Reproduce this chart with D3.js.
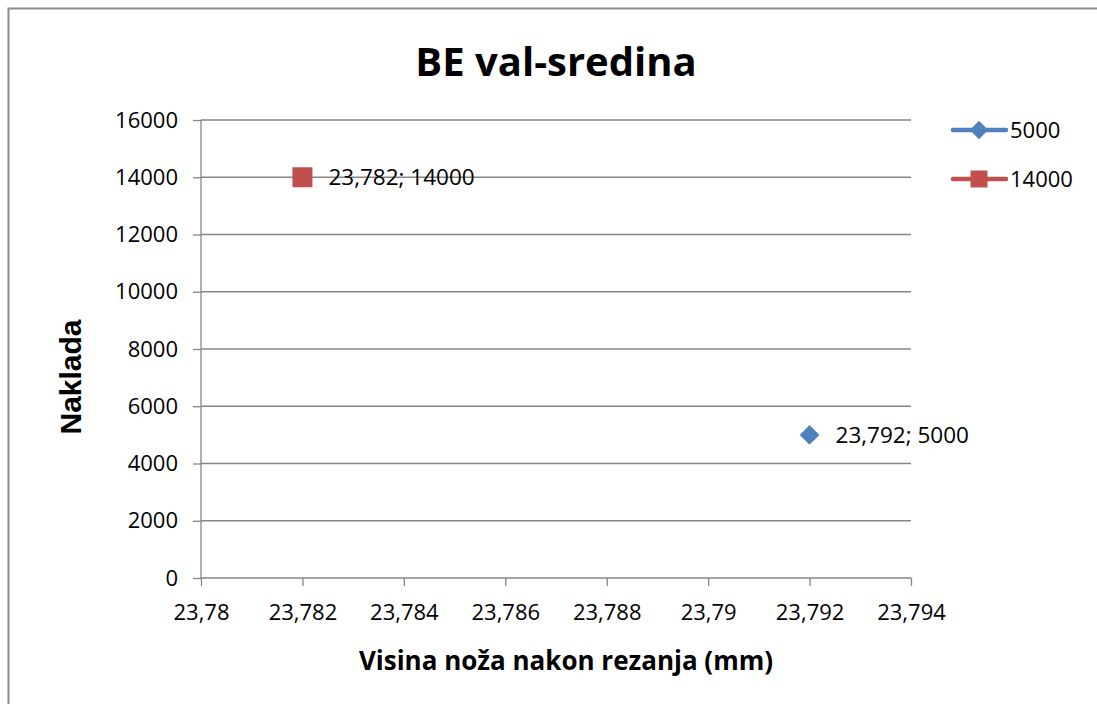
<!DOCTYPE html>
<html>
<head>
<meta charset="utf-8">
<script src="https://cdn.jsdelivr.net/npm/d3@7"></script>
<style>
  body { margin: 0; background: #fff; }
  text { font-family: "Open Sans", "Noto Sans", sans-serif; fill: #000; }
</style>
</head>
<body>
<svg id="svg1" width="1097" height="704"></svg>
<script>
// chart data
const titleText = 'BE val-sredina';
const xLabelText = 'Visina noža nakon rezanja (mm)';
const yLabelText = 'Naklada';
const seriesNames = ['5000', '14000'];
const seriesX = [23.792, 23.782];
const seriesY = [5000, 14000];
const seriesColors = ['#4F81BD', '#C0504D'];
const xTicks = [23.78, 23.782, 23.784, 23.786, 23.788, 23.79, 23.792, 23.794];
const yTicks = [0, 2000, 4000, 6000, 8000, 10000, 12000, 14000, 16000];

const svg = d3.select('#svg1');
const width = +svg.attr('width');
const height = +svg.attr('height');

// outer frame, runs past the bottom and right edge like the original
svg.append('rect')
  .attr('x', 8.5).attr('y', 8.5)
  .attr('width', width + 20).attr('height', height + 20)
  .attr('fill', 'none').attr('stroke', '#8c8c8c').attr('stroke-width', 2);

const margin = { top: 120, left: 201, right: 1097 - 911, bottom: 704 - 578 };
const innerWidth = width - margin.left - margin.right;
const innerHeight = height - margin.top - margin.bottom;

const xScale = d3.scaleLinear().domain([23.78, 23.794]).range([0, innerWidth]);
const yScale = d3.scaleLinear().domain([0, 16000]).range([innerHeight, 0]);

const g = svg.append('g').attr('transform', `translate(${margin.left},${margin.top})`);

// horizontal gridlines
g.selectAll('.grid').data(yTicks.filter(d => d > 0)).enter().append('line')
  .attr('x1', 0).attr('x2', innerWidth)
  .attr('y1', d => yScale(d)).attr('y2', d => yScale(d))
  .attr('stroke', '#868686').attr('stroke-width', 1.3);

const fmtComma = d => String(d).replace('.', ',');

const yAxisG = g.append('g')
  .call(d3.axisLeft(yScale).tickValues(yTicks).tickSize(8).tickPadding(15).tickFormat(d => d));
const xAxisG = g.append('g')
  .attr('transform', `translate(0,${innerHeight})`)
  .call(d3.axisBottom(xScale).tickValues(xTicks).tickSize(8).tickPadding(18).tickFormat(fmtComma));

[xAxisG, yAxisG].forEach(a => {
  a.selectAll('.domain').attr('stroke', '#868686').attr('stroke-width', 1.3);
  a.selectAll('.tick line').attr('stroke', '#868686').attr('stroke-width', 1.3);
  a.selectAll('.tick text').style('font-size', '22px').attr('fill', '#000');
});
// axis line with no outer tick caps
yAxisG.select('.domain').attr('d', `M0,0V${innerHeight}`);
xAxisG.select('.domain').attr('d', `M0,0H${innerWidth}`);

// markers: rotated square for the diamond, plain square
const markerSide = [14, 20];
const markerRot = [45, 0];
const markerPath = s => d3.symbol().type(d3.symbolSquare).size(s * s)();
seriesNames.forEach((name, i) => {
  g.append('path')
    .attr('d', markerPath(markerSide[i]))
    .attr('transform', `translate(${xScale(seriesX[i])},${yScale(seriesY[i])}) rotate(${markerRot[i]})`)
    .attr('fill', seriesColors[i]);
  g.append('text')
    .attr('x', xScale(seriesX[i]) + 26)
    .attr('y', yScale(seriesY[i]))
    .attr('dy', '0.35em')
    .style('font-size', '22.5px')
    .text(`${fmtComma(seriesX[i])}; ${seriesY[i]}`);
});

// title
svg.append('text')
  .attr('x', 556).attr('y', 76)
  .attr('text-anchor', 'middle')
  .style('font-size', '40px').style('font-weight', 'bold')
  .text(titleText);

// axis titles
svg.append('text')
  .attr('x', 566).attr('y', 670)
  .attr('text-anchor', 'middle')
  .style('font-size', '26px').style('font-weight', 'bold')
  .text(xLabelText);
svg.append('text')
  .attr('transform', `translate(81,377) rotate(-90)`)
  .attr('text-anchor', 'middle')
  .style('font-family', '"Liberation Sans", Arial, sans-serif')
  .style('font-size', '30px').style('font-weight', 'bold')
  .text(yLabelText);

// legend
const legend = svg.append('g');
seriesNames.forEach((name, i) => {
  const ly = 130 + i * 49;
  legend.append('line')
    .attr('x1', 953).attr('x2', 1006).attr('y1', ly).attr('y2', ly)
    .attr('stroke', seriesColors[i]).attr('stroke-width', 4.5).attr('stroke-linecap', 'round');
  legend.append('path')
    .attr('d', markerPath(i === 0 ? 13 : 17))
    .attr('transform', `translate(979,${ly}) rotate(${markerRot[i]})`)
    .attr('fill', seriesColors[i]);
  legend.append('text')
    .attr('x', 1010).attr('y', ly).attr('dy', '0.35em')
    .style('font-size', '22px')
    .text(name);
});
</script>
</body>
</html>
